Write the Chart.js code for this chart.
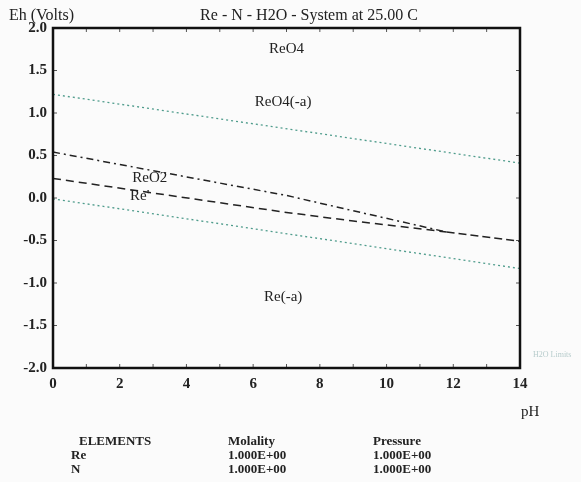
<!DOCTYPE html>
<html>
<head>
<meta charset="utf-8">
<script src="https://cdn.jsdelivr.net/npm/chart.js@4/dist/chart.umd.min.js"></script>
<style>
  html, body { margin: 0; padding: 0; background: #fbfbfb; }
  #wrap { width: 581px; height: 482px; }
</style>
</head>
<body>
<div id="wrap"><canvas id="chart" width="581" height="482"></canvas></div>
<script>
// water stability limits
const waterUpperPH = [0, 14]
const waterUpperEh = [1.22, 0.41]
const waterLowerPH = [0, 14]
const waterLowerEh = [-0.01, -0.83]
// ReO4(-a) / ReO2 boundary
const reo4Reo2PH = [0, 7, 9, 11.8]
const reo4Reo2Eh = [0.54, 0.03, -0.15, -0.40]
// ReO2 / Re boundary
const reo2RePH = [0, 7, 9, 11.8]
const reo2ReEh = [0.23, -0.17, -0.27, -0.40]
// ReO4(-a) / Re boundary
const reo4RePH = [11.8, 14]
const reo4ReEh = [-0.40, -0.51]

const xTicks = [0, 2, 4, 6, 8, 10, 12, 14]
const yTicks = [2.0, 1.5, 1.0, 0.5, 0.0, -0.5, -1.0, -1.5, -2.0]

const fieldNames = ['ReO4', 'ReO4(-a)', 'ReO2', "Re'", 'Re(-a)']
const fieldPH = [7.0, 6.9, 2.9, 2.6, 6.9]
const fieldEh = [1.75, 1.13, 0.24, 0.02, -1.17]

const elements = ['Re', 'N']
const molality = ['1.000E+00', '1.000E+00']
const pressure = ['1.000E+00', '1.000E+00']

const toPts = (xs, ys) => xs.map((x, i) => ({ x: x, y: ys[i] }))
const green = '#4f9c8c'
const serif = '"Liberation Serif", "Times New Roman", serif'

function line(data, color, dash, width) {
  return {
    data: data,
    showLine: true,
    borderColor: color,
    borderWidth: width,
    borderDash: dash,
    pointRadius: 0,
    fill: false,
    tension: 0
  }
}

const decor = {
  id: 'decor',
  afterDraw(chart) {
    const ctx = chart.ctx
    const x = chart.scales.x
    const y = chart.scales.y
    const a = chart.chartArea
    ctx.save()
    // inward tick marks
    ctx.strokeStyle = '#555'
    ctx.lineWidth = 1
    for (let v = 1; v < 14; v++) {
      const px = x.getPixelForValue(v)
      ctx.beginPath()
      ctx.moveTo(px, a.bottom); ctx.lineTo(px, a.bottom - 4)
      ctx.moveTo(px, a.top); ctx.lineTo(px, a.top + 4)
      ctx.stroke()
    }
    yTicks.forEach(v => {
      const py = y.getPixelForValue(v)
      ctx.beginPath()
      ctx.moveTo(a.left, py); ctx.lineTo(a.left + 4, py)
      ctx.moveTo(a.right, py); ctx.lineTo(a.right - 4, py)
      ctx.stroke()
    })
    // frame
    ctx.strokeStyle = '#111'
    ctx.lineWidth = 2.5
    ctx.strokeRect(a.left, a.top, a.right - a.left, a.bottom - a.top)

    // field labels
    ctx.fillStyle = '#222'
    ctx.font = '15px ' + serif
    ctx.textAlign = 'center'
    ctx.textBaseline = 'middle'
    fieldNames.forEach((t, i) => {
      ctx.fillText(t, x.getPixelForValue(fieldPH[i]), y.getPixelForValue(fieldEh[i]))
    })

    // titles
    ctx.font = '16px ' + serif
    ctx.textAlign = 'left'
    ctx.fillText('Eh (Volts)', 9, 16)
    ctx.textAlign = 'center'
    ctx.fillText('Re - N - H2O - System at 25.00 C', 309, 16)
    ctx.textAlign = 'left'
    ctx.font = '15px ' + serif
    ctx.fillText('pH', 521, 412)
    ctx.font = '8px ' + serif
    ctx.fillStyle = '#b7cccc'
    ctx.fillText('H2O Limits', 533, 355)

    // table
    ctx.fillStyle = '#222'
    ctx.font = 'bold 13px ' + serif
    ctx.fillText('ELEMENTS', 79, 442)
    ctx.fillText('Molality', 228, 442)
    ctx.fillText('Pressure', 373, 442)
    elements.forEach((e, i) => {
      const py = 456 + i * 14
      ctx.fillText(e, 71, py)
      ctx.fillText(molality[i], 228, py)
      ctx.fillText(pressure[i], 373, py)
    })
    ctx.restore()
  }
}

new Chart(document.getElementById('chart'), {
  type: 'scatter',
  data: {
    datasets: [
      line(toPts(waterUpperPH, waterUpperEh), green, [2, 3], 1.3),
      line(toPts(waterLowerPH, waterLowerEh), green, [2, 3], 1.3),
      line(toPts(reo4Reo2PH, reo4Reo2Eh), '#222', [7, 4, 2, 4], 1.5),
      line(toPts(reo2RePH, reo2ReEh), '#222', [8, 5], 1.5),
      line(toPts(reo4RePH, reo4ReEh), '#222', [8, 4], 1.5)
    ]
  },
  options: {
    responsive: false,
    animation: false,
    layout: { padding: { top: 28, right: 61, left: 0, bottom: 0 } },
    plugins: {
      legend: { display: false },
      tooltip: { enabled: false }
    },
    scales: {
      x: {
        type: 'linear',
        min: 0,
        max: 14,
        afterFit: s => { s.height = 114 },
        afterBuildTicks: s => { s.ticks = xTicks.map(v => ({ value: v })) },
        grid: { display: false, drawTicks: false },
        border: { display: false },
        ticks: {
          color: '#222',
          padding: 7,
          maxRotation: 0,
          font: { family: serif, size: 15, weight: 'bold' }
        }
      },
      y: {
        type: 'linear',
        min: -2,
        max: 2,
        afterFit: s => { s.width = 53 },
        afterBuildTicks: s => { s.ticks = yTicks.map(v => ({ value: v })) },
        grid: { display: false, drawTicks: false },
        border: { display: false },
        ticks: {
          color: '#222',
          padding: 6,
          font: { family: serif, size: 15, weight: 'bold' },
          callback: v => v.toFixed(1)
        }
      }
    }
  },
  plugins: [decor]
})
</script>
</body>
</html>
